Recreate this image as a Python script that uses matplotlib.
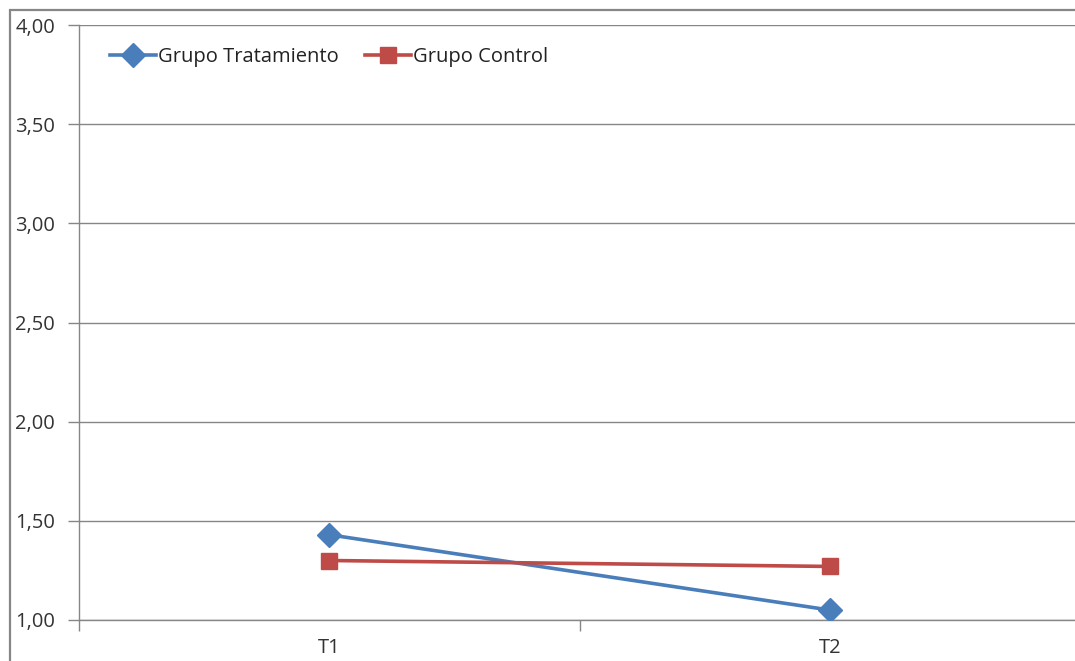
import matplotlib.pyplot as plt
from matplotlib.patches import Rectangle
from matplotlib.ticker import FuncFormatter

plt.rcParams['font.family'] = ['Open Sans', 'DejaVu Sans']

momentos = ['T1', 'T2']
tratamiento = [1.43, 1.05]
control = [1.30, 1.27]
y_ticks = [1.0, 1.5, 2.0, 2.5, 3.0, 3.5, 4.0]

azul = '#4A7EBB'
rojo = '#BE4B48'
gris = '#868686'

fig = plt.figure(figsize=(10.75, 6.61), dpi=100)
W, H = 1075, 661

# marco exterior del gráfico
fig.patches.append(Rectangle((10 / W, -0.1), 1.2, (H - 10) / H + 0.1,
                             transform=fig.transFigure, fill=False,
                             edgecolor=gris, lw=1.6))

ax = fig.add_axes([78.5 / W, 41 / H, 1002 / W, 595 / H])

x = list(range(len(momentos)))
ax.plot(x, tratamiento, color=azul, lw=2.6, marker='D', ms=12,
        label='Grupo Tratamiento', zorder=3)
ax.plot(x, control, color=rojo, lw=2.6, marker='s', ms=12,
        label='Grupo Control', zorder=3)

ax.set_xlim(-0.5, len(momentos) - 0.5)
ax.set_ylim(1.0, 4.0)
ax.set_yticks(y_ticks)
ax.yaxis.set_major_formatter(FuncFormatter(lambda v, p: f'{v:.2f}'.replace('.', ',')))
ax.yaxis.grid(True, color=gris, lw=1)
ax.set_axisbelow(True)

fs = 14.5
ax.set_xticks(x)
ax.set_xticklabels(momentos)
ax.set_xticks([i - 0.5 for i in range(len(momentos) + 1)], minor=True)
ax.tick_params(axis='x', which='major', length=0, pad=13, labelsize=fs, colors='#333333')
ax.tick_params(axis='x', which='minor', length=8, width=1, color=gris)
ax.tick_params(axis='y', length=8, width=1, color=gris, pad=9, labelsize=fs, labelcolor='#333333')

for side in ['top', 'right']:
    ax.spines[side].set_visible(False)
for side in ['left', 'bottom']:
    ax.spines[side].set_color(gris)
    ax.spines[side].set_linewidth(1)

ax.legend(loc='upper left', bbox_to_anchor=(0.013, 0.993), ncol=2, frameon=False,
          fontsize=fs, handlelength=2.3, handletextpad=0.1, columnspacing=1.3,
          labelcolor='#222222')

fig.savefig('out.png', dpi=100)
